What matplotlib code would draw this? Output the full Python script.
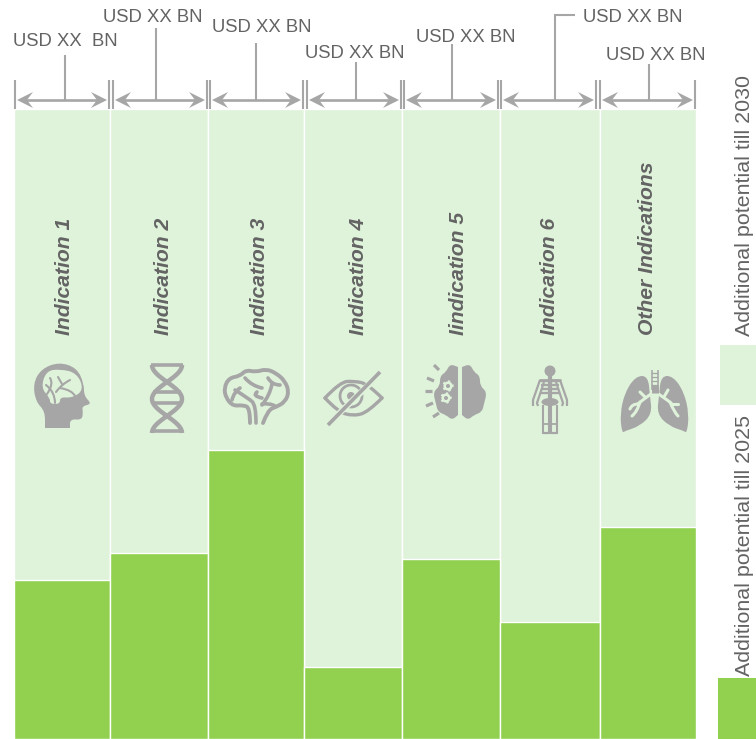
import numpy as np
import matplotlib
matplotlib.use("Agg")
from matplotlib import pyplot as plt
from matplotlib.path import Path
from matplotlib.patches import PathPatch, Circle, Ellipse, Rectangle, Polygon

plt.rcParams['font.family'] = ['Liberation Sans', 'DejaVu Sans']

categories = ['Indication 1', 'Indication 2', 'Indication 3', 'Indication 4',
              'Iindication 5', 'Indication 6', 'Other Indications']
potential_2025 = [25.2, 29.6, 45.8, 11.5, 28.6, 18.5, 33.7]
potential_2030 = [100, 100, 100, 100, 100, 100, 100]
widths = [96, 98, 97, 98, 97.5, 100, 96]
value_labels = ['USD XX  BN', 'USD XX BN', 'USD XX BN', 'USD XX BN',
                'USD XX BN', 'USD XX BN', 'USD XX BN']
legend_labels = ['Additional potential till 2025', 'Additional potential till 2030']

GREEN = '#92d050'
LIGHT = '#dff2da'
GREY = '#a6a6a6'
TEXT = '#636363'
W, H = 756, 739

fig = plt.figure(figsize=(W / 100, H / 100), dpi=100)

# bars, in their own axes (x = width share, y = percent of full height)
ax = fig.add_axes([13 / W, 0, 684 / W, 630 / H])
lefts = np.concatenate([[0], np.cumsum(widths)[:-1]])
ax.bar(lefts, potential_2030, widths, align='edge', color=LIGHT, edgecolor='white', linewidth=1.0)
ax.bar(lefts, potential_2025, widths, align='edge', color=GREEN, edgecolor='white', linewidth=1.0)
ax.set_xlim(-0.7, sum(widths) + 1.3)
ax.set_ylim(0, 100)
ax.axis('off')

# overlay in pixel coordinates for brackets, labels and icons
ov = fig.add_axes([0, 0, 1, 1])
ov.set_xlim(0, W)
ov.set_ylim(H, 0)
ov.axis('off')
ov.patch.set_alpha(0)


def line(xs, ys, lw=1.5, color=GREY, z=3):
    ov.plot(xs, ys, color=color, lw=lw, solid_capstyle='butt', zorder=z)


def blob(pts, color=GREY, z=3):
    # closed smooth shape through the midpoints of pts
    pts = np.array(pts, float)
    mids = (pts + np.roll(pts, -1, axis=0)) / 2
    verts = [mids[-1]]
    codes = [Path.MOVETO]
    for i in range(len(pts)):
        verts += [pts[i], mids[i]]
        codes += [Path.CURVE3, Path.CURVE3]
    ov.add_patch(PathPatch(Path(verts, codes), fc=color, ec='none', zorder=z))


def curve(pts, lw=2, color=GREY, z=4):
    pts = np.array(pts, float)
    verts = [pts[0]]
    codes = [Path.MOVETO]
    for i in range(1, len(pts) - 1):
        end = pts[i + 1] if i == len(pts) - 2 else (pts[i] + pts[i + 1]) / 2
        verts += [pts[i], end]
        codes += [Path.CURVE3, Path.CURVE3]
    if len(pts) == 2:
        verts.append(pts[1])
        codes.append(Path.LINETO)
    ov.add_patch(PathPatch(Path(verts, codes), fc='none', ec=color, lw=lw, zorder=z, capstyle='round'))


def arrow_head(x, y, d):
    ov.add_patch(Polygon([(x, y), (x - d * 16, y - 8), (x - d * 10, y), (x - d * 16, y + 8)],
                         closed=True, fc=GREY, ec='none', zorder=3))


# brackets
bracket_edges = [(15, 109), (113, 207), (210, 303), (307, 401), (404, 498), (501, 596), (600, 695)]
stem_x = [65, 156, 256, 356, 452, 555, 649]
stem_top = [55, 28, 43, 62, 44, 14, 64]
label_x = [65, 153, 261.5, 355, 466, 633, 656]
label_y = [41, 17, 28, 54, 37, 17, 55]

for (a, b), sx, st, lx, ly, txt in zip(bracket_edges, stem_x, stem_top, label_x, label_y, value_labels):
    line([a, a], [80, 109])
    line([b, b], [80, 109])
    line([a + 6, b - 6], [100, 100], lw=1.9)
    arrow_head(a + 2, 100, -1)
    arrow_head(b - 2, 100, 1)
    line([sx, sx], [st, 100])
    ov.text(lx, ly, txt, color=TEXT, fontsize=13.3, ha='center', va='center')
line([555, 575], [14.5, 14.5])

# indication names
name_x = [64.5, 163.5, 259.5, 358.5, 458.5, 549.5, 647.5]
for x, name in zip(name_x, categories):
    ov.text(x, 335, name, color=TEXT, fontsize=15.2, fontweight='bold', fontstyle='italic',
            rotation=90, ha='left', va='center', rotation_mode='anchor')

# legend on the right
ov.add_patch(Rectangle((720, 345), 36, 60, fc=LIGHT, ec='none'))
ov.add_patch(Rectangle((718, 678), 38, 61, fc=GREEN, ec='none'))
ov.text(745, 676, legend_labels[0], color=TEXT, fontsize=15.4, rotation=90, ha='left', va='center', rotation_mode='anchor')
ov.text(745, 336, legend_labels[1], color=TEXT, fontsize=15.4, rotation=90, ha='left', va='center', rotation_mode='anchor')

# icon 1: head
blob([(45, 428), (45, 428), (45, 428), (45, 411), (36, 402), (33, 384), (41, 369), (59, 362), (77, 368), (84, 384),
      (84, 396), (92, 404), (82, 406), (83, 412), (82, 420), (70, 419), (70, 428), (70, 428), (70, 428)])
blob([(41, 388), (46, 371), (60, 369), (77, 373), (84, 390), (72, 398), (60, 397), (60, 404), (50, 404), (50, 398)], color=LIGHT, z=4)
for seg in [[(55, 403), (55, 392), (46, 385)], [(56, 392), (62, 384), (70, 380)], [(60, 388), (72, 390), (75, 396)],
            [(50, 378), (54, 384), (47, 394)], [(62, 384), (58, 377)]]:
    curve(seg, lw=1.5, z=5)

# icon 2: dna
t = np.linspace(0, 1, 60)
yy = 365 + 68 * t
line(167 - 15 * np.cos(t * 2 * np.pi), yy, lw=3.2)
line(167 + 15 * np.cos(t * 2 * np.pi), yy, lw=3.2)
for yr in [365, 392, 403, 431]:
    line([151, 183] if yr in (365, 431) else [153, 181], [yr, yr], lw=2.6)

# icon 3: brain
curve([(250, 423), (250, 408), (243, 405), (233, 406), (226, 398), (224, 388), (229, 378), (240, 376), (246, 370),
       (256, 372), (266, 369), (276, 373), (285, 381), (289, 392), (285, 402), (276, 407), (268, 410), (263, 423)], lw=2.8)
for seg in [[(256, 423), (256, 405), (248, 398), (235, 390)], [(232, 400), (234, 392), (240, 388)],
            [(245, 378), (252, 386), (262, 388)], [(262, 405), (270, 395), (272, 384)], [(257, 392), (252, 396), (262, 398)],
            [(262, 404), (270, 403), (275, 406)], [(268, 378), (272, 385), (280, 385)]]:
    curve(seg, lw=2.6)

# icon 4: crossed eye
curve([(325, 398), (340, 382), (354, 381), (368, 384), (382, 398)], lw=2.4)
curve([(325, 398), (338, 412), (354, 416), (368, 412), (382, 398)], lw=2.4)
ov.add_patch(Circle((351, 396), 11, fc='none', ec=GREY, lw=2, zorder=4))
ov.add_patch(Circle((351, 396), 4, fc=GREY, ec='none', zorder=4))
line([326, 381], [426, 373], lw=4.5, color=LIGHT, z=5)
line([328, 380], [425, 372], lw=2.6, z=6)

# icon 5: brain with gears
blob([(458, 367), (458, 367), (450, 364), (446, 372), (440, 376), (440, 386), (433, 392), (436, 404), (438, 412),
      (446, 415), (452, 420), (458, 415), (458, 415)])
blob([(462, 367), (462, 367), (470, 364), (474, 372), (480, 376), (480, 386), (487, 392), (484, 404), (482, 412),
      (474, 415), (468, 420), (462, 415), (462, 415)])
for cx, cy, r in [(448, 386, 4.6), (446, 398, 4.6)]:
    ov.add_patch(Circle((cx, cy), r, fc=LIGHT, ec=LIGHT, ls=':', lw=1.6, zorder=4))
    ov.add_patch(Circle((cx, cy), 2, fc=GREY, ec='none', zorder=5))
for seg in [([434, 439], [365, 370]), ([427, 434], [378, 381]), ([425, 432], [391, 391]), ([426, 433], [406, 403]),
            ([433, 439], [417, 413])]:
    line(seg[0], seg[1], lw=2.3)

# icon 6: skeleton
ov.add_patch(Circle((550, 371), 5.5, fc=GREY, ec='none', zorder=4))
line([550, 550], [376, 404], lw=3)
for yr in [381, 385, 389, 393]:
    line([541, 559], [yr, yr], lw=1.7)
line([539, 561], [380, 380], lw=2)
line([540, 533, 533], [380, 400, 406], lw=1.6)
line([560, 567, 567], [380, 400, 406], lw=1.6)
line([544, 537, 538], [382, 403, 406], lw=1.6)
line([556, 563, 562], [382, 403, 406], lw=1.6)
ov.add_patch(Ellipse((550, 402), 17, 8, fc=GREY, ec='none', zorder=4))
for x in [543, 549, 551, 557]:
    line([x, x], [405, 434], lw=1.5)
line([543, 549], [433, 433], lw=1.6)
line([551, 557], [433, 433], lw=1.6)
line([543, 549], [424, 424], lw=1.3)
line([551, 557], [424, 424], lw=1.3)

# icon 7: lungs
blob([(648, 376), (636, 376), (625, 392), (620, 414), (622, 433), (625, 431), (640, 426), (652, 414), (650, 396)])
blob([(661, 376), (673, 376), (684, 392), (689, 414), (687, 433), (684, 431), (669, 426), (657, 414), (659, 396)])
line([651.5, 651.5], [370, 390], lw=1.1)
line([657.5, 657.5], [370, 390], lw=1.1)
for yr in [373, 377, 381, 385]:
    line([651, 658], [yr, yr], lw=0.9)
for seg in [[(654, 392), (646, 397), (638, 404)], [(638, 404), (632, 404), (630, 409)], [(640, 402), (637, 412), (632, 416)],
            [(645, 397), (640, 392)], [(655, 392), (664, 397), (672, 404)], [(672, 404), (678, 404)], [(670, 402), (674, 412), (678, 416)],
            [(664, 397), (668, 390)]]:
    curve(seg, lw=2.2, color=LIGHT)
line([654.5, 654.5], [385, 393], lw=5, color=GREY, z=5)

fig.savefig('out.png', dpi=100)
